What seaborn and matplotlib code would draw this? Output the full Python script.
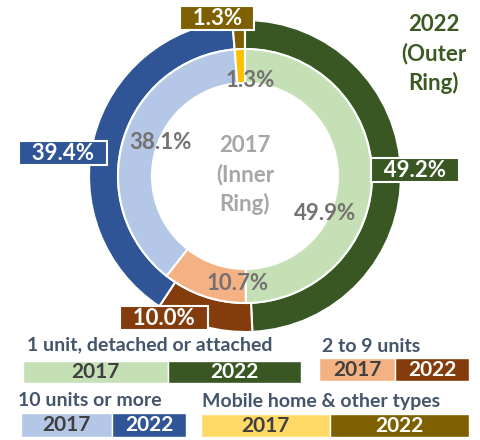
import matplotlib
matplotlib.use("Agg")
import matplotlib.pyplot as plt
import seaborn as sns

# housing type shares, percent
categories = ["1 unit, detached or attached", "2 to 9 units", "10 units or more", "Mobile home & other types"]
share_2017 = [49.9, 10.7, 38.1, 1.3]
share_2022 = [49.2, 10.0, 39.4, 1.3]
labels_2017 = ["49.9%", "10.7%", "38.1%", "1.3%"]
labels_2022 = ["49.2%", "10.0%", "39.4%", "1.3%"]

light_cols = ["#C5E0B4", "#F4B183", "#B4C7E7", "#FFC000"]
dark_cols = ["#385723", "#843C0C", "#2F5597", "#7F6000"]
legend_light = ["#C5E0B4", "#F4B183", "#B4C7E7", "#FFD966"]

sns.set_theme(style="white")
plt.rcParams["font.family"] = ["Lato", "DejaVu Sans"]

W, H = 481, 440
fig = plt.figure(figsize=(W / 100, H / 100), dpi=100)
ax = fig.add_axes([0, 0, 1, 1])

cx, cy = 245, H - 176

# outer ring 2022
ax.pie(share_2022, colors=dark_cols, radius=156, center=(cx, cy), startangle=90,
       counterclock=False, wedgeprops=dict(width=29, edgecolor="white", linewidth=1.5))
# inner ring 2017
ax.pie(share_2017, colors=light_cols, radius=127, center=(cx, cy), startangle=90,
       counterclock=False, wedgeprops=dict(width=34, edgecolor="white", linewidth=1.5))

ax.set_xlim(0, W)
ax.set_ylim(0, H)
ax.set_aspect("equal")
ax.axis("off")

def py(y):
    return H - y

# inner labels
inner_pos = [(325, 213), (238, 283), (160, 142), (250, 80)]
for (x, y), lab in zip(inner_pos, labels_2017):
    ax.text(x, py(y), lab, ha="center", va="center", fontsize=16, fontweight="bold", color="#767171")

# outer labels in boxes
outer_pos = [(415, 170), (164, 318), (63, 153), (217, 18)]
for (x, y), lab, c in zip(outer_pos, labels_2022, dark_cols):
    ax.text(x, py(y), "  " + lab + "  ", ha="center", va="center", fontsize=16, fontweight="bold",
            color="white", bbox=dict(boxstyle="square,pad=0.08", fc=c, ec="white", lw=1.5))

ax.text(cx, py(175), "2017\n(Inner\nRing)", ha="center", va="center", fontsize=16,
        fontweight="bold", color="#A6A6A6", linespacing=1.45)
ax.text(434, py(54), "2022\n(Outer\nRing)", ha="center", va="center", fontsize=16,
        fontweight="bold", color="#3B5A22", linespacing=1.45)

# legend blocks: title position, bar left, split, right, bar top, bottom
legend_layout = [
    ((27, 345), 23, 168, 301, 361, 383),
    ((322, 347), 319, 395, 469, 358, 381),
    ((18, 401), 21, 112, 186, 413, 437),
    ((202, 401), 201, 330, 469, 414, 437),
]
for cat, lc, dc, (tpos, x0, xm, x1, y0, y1) in zip(categories, legend_light, dark_cols, legend_layout):
    ax.text(tpos[0], py(tpos[1]), cat, ha="left", va="center", fontsize=14,
            fontweight="bold", color="#44546A")
    yc = py((y0 + y1) / 2)
    h = y1 - y0
    ax.barh(yc, xm - x0, left=x0, height=h, color=lc)
    ax.barh(yc, x1 - xm, left=xm, height=h, color=dc)
    ax.text((x0 + xm) / 2, yc, "2017", ha="center", va="center", fontsize=15,
            fontweight="bold", color="#404040")
    ax.text((xm + x1) / 2, yc, "2022", ha="center", va="center", fontsize=15,
            fontweight="bold", color="white")

fig.savefig("out.png", dpi=100)
